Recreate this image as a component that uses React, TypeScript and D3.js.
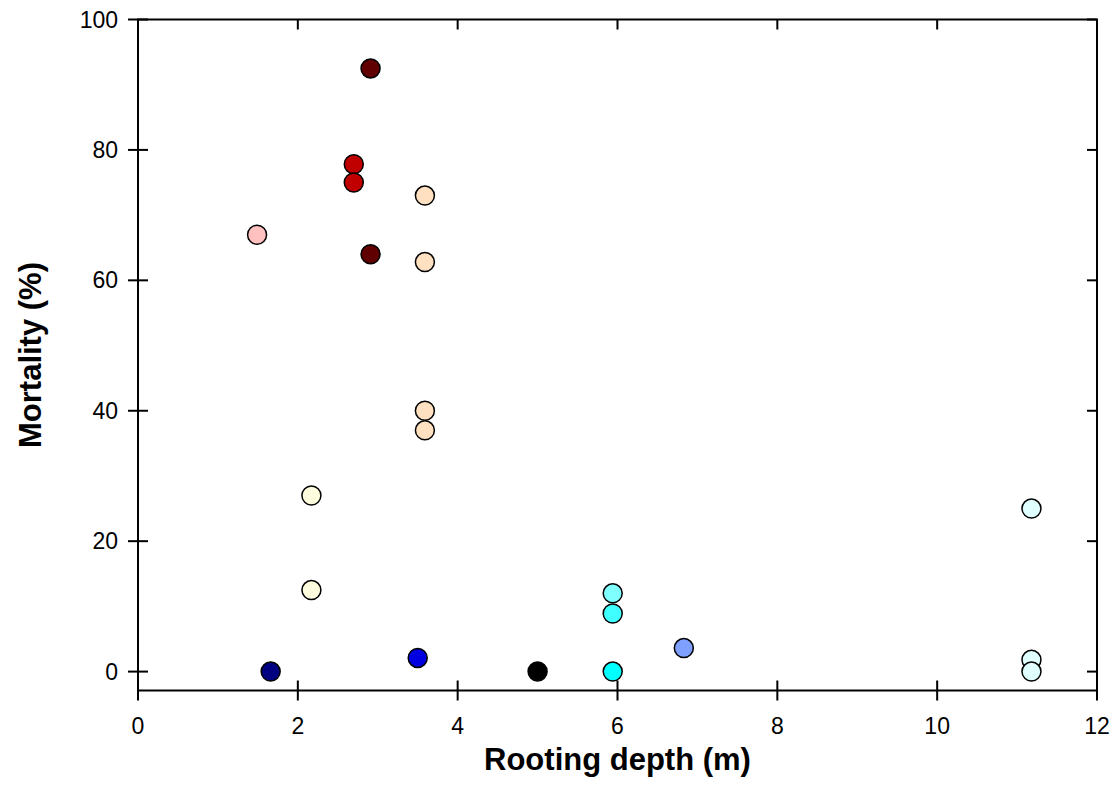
import React from 'react';
import * as d3 from 'd3';

// rooting depth (m), mortality (%) and fill colour per point
const depth = [1.66, 1.49, 2.17, 2.17, 2.70, 2.70, 2.91, 2.91, 3.59, 3.59, 3.59, 3.59, 3.50, 5.0, 5.94, 5.94, 5.94, 6.83, 11.18, 11.18, 11.18];
const mortality = [0, 67, 27, 12.5, 77.8, 75, 92.5, 64, 73, 62.8, 40, 37, 2.1, 0, 12, 8.9, 0, 3.6, 25, 1.8, 0];
const fills = [
  '#000080', '#ffc0c0', '#ffffe0', '#ffffe0', '#c00000', '#c00000', '#600000', '#600000',
  '#ffe0c0', '#ffe0c0', '#ffe0c0', '#ffe0c0', '#0000e0', '#000000', '#80ffff', '#40ffff',
  '#00ffff', '#80a0ff', '#e0ffff', '#e0ffff', '#e0ffff',
];
const xTicks = [0, 2, 4, 6, 8, 10, 12];
const yTicks = [0, 20, 40, 60, 80, 100];

export default function App() {
  const left = 138, right = 1097, top = 19.5, bottom = 690.5;
  const x = d3.scaleLinear().domain([0, 12]).range([left, right]);
  const y = d3.scaleLinear().domain([-2.9, 100]).range([bottom, top]);
  const font = '"Liberation Sans", Arial, sans-serif';

  return (
    <svg width={1118} height={806} style={{ position: 'absolute', left: 0, top: 0 }} fontFamily={font}>
      <rect width={1118} height={806} fill="#fff" />
      {/* frame */}
      <rect x={left} y={top} width={right - left} height={bottom - top} fill="none" stroke="#000" strokeWidth={2} />
      {xTicks.map(t => (
        <g key={'x' + t}>
          <line x1={x(t)} x2={x(t)} y1={bottom - 10} y2={bottom + 10} stroke="#000" strokeWidth={2} />
          <line x1={x(t)} x2={x(t)} y1={top} y2={top + 10} stroke="#000" strokeWidth={2} />
          <text x={x(t)} y={bottom + 43} textAnchor="middle" fontSize={23}>{t}</text>
        </g>
      ))}
      {yTicks.map(t => (
        <g key={'y' + t}>
          <line x1={left - 10} x2={left + 10} y1={y(t)} y2={y(t)} stroke="#000" strokeWidth={2} />
          <line x1={right - 10} x2={right} y1={y(t)} y2={y(t)} stroke="#000" strokeWidth={2} />
          <text x={left - 20} y={y(t)} dy="0.35em" textAnchor="end" fontSize={23}>{t}</text>
        </g>
      ))}
      {depth.map((d, i) => (
        <circle key={i} cx={x(d)} cy={y(mortality[i])} r={9.5} fill={fills[i]} stroke="#000" strokeWidth={1.5} />
      ))}
      <text x={(left + right) / 2} y={770} textAnchor="middle" fontSize={31} fontWeight="bold">Rooting depth (m)</text>
      <text transform={`translate(41,${(top + bottom) / 2}) rotate(-90)`} textAnchor="middle" fontSize={31} fontWeight="bold">Mortality (%)</text>
    </svg>
  );
}
